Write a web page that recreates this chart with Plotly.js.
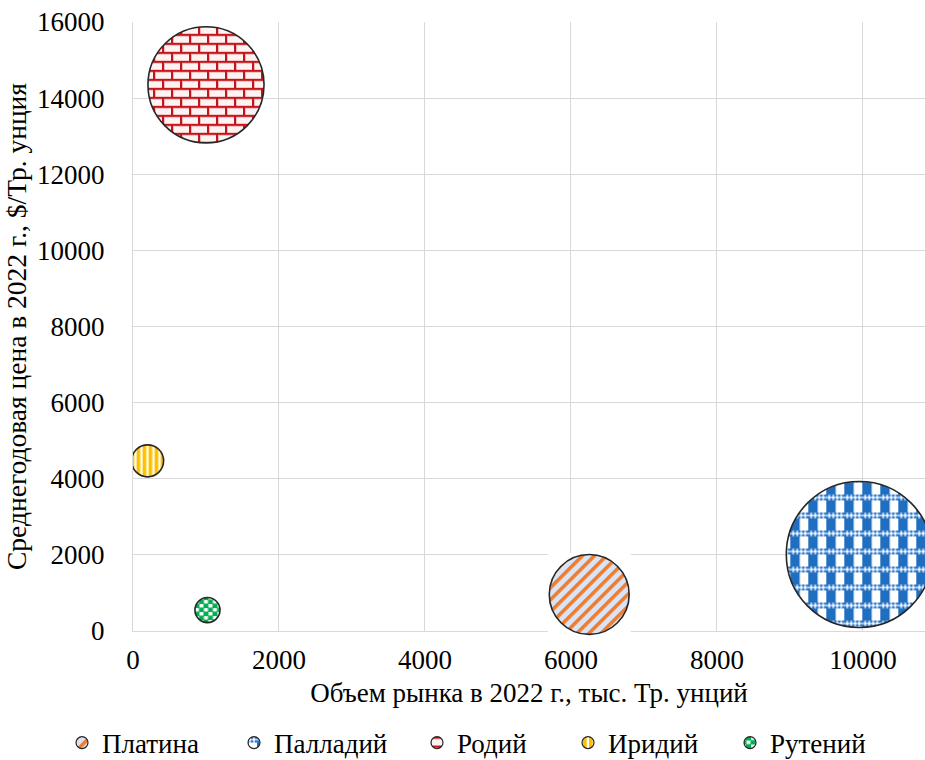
<!DOCTYPE html>
<html>
<head>
<meta charset="utf-8">
<script src="https://cdn.plot.ly/plotly-3.0.1.min.js"></script>
<style>
html,body{margin:0;padding:0;background:#fff;}
#chart{width:925px;height:760px;}
</style>
</head>
<body>
<div id="chart"></div>
<script>
// ---- data ----
const metals = ['Платина', 'Палладий', 'Родий', 'Иридий', 'Рутений'];
const marketVolume = [6250, 9950, 1000, 200, 1020];      // тыс. Тр. унций
const avgPrice = [960, 2010, 14350, 4470, 550];          // $/Тр. унция
const marketValue = [6800, 22700, 14350, 1090, 670];     // bubble size (market value, млн $)
const xTicks = [0, 2000, 4000, 6000, 8000, 10000];
const yTicks = [0, 2000, 4000, 6000, 8000, 10000, 12000, 14000, 16000];

const patIds = ['pPt', 'pPd', 'pRh', 'pIr', 'pRu'];
const legendMarkerX = [84, 256, 439, 590, 752];
const W = 925, H = 760;
const FONT = 'Liberation Serif';
const FS = 27;

const traces = [];
// white backdrop behind Platinum (as in the reference)
traces.push({
  type: 'scatter', mode: 'markers', name: 'bg',
  x: [marketVolume[0]], y: [avgPrice[0]],
  marker: {symbol: 'square', size: 83, color: '#ffffff', opacity: 1, line: {width: 0}},
  cliponaxis: false, showlegend: false, hoverinfo: 'skip'
});
metals.forEach((m, i) => {
  traces.push({
    type: 'scatter', mode: 'markers', name: m,
    x: [marketVolume[i]], y: [avgPrice[i]],
    marker: {
      size: [marketValue[i]], sizemode: 'area', sizeref: 2.13, opacity: 1,
      color: '#ffffff', line: {color: '#262626', width: 1.6}
    },
    legend: i === 0 ? 'legend' : 'legend' + (i + 1),
    cliponaxis: i === 0 ? false : true
  });
});

const layout = {
  width: W, height: H,
  margin: {l: 133, r: 0, t: 22, b: 129},
  paper_bgcolor: '#ffffff', plot_bgcolor: '#ffffff',
  font: {family: FONT, size: FS, color: '#000000'},
  showlegend: true,
  xaxis: {
    range: [0, 10850], tickvals: xTicks, ticktext: xTicks.map(String),
    showgrid: true, gridcolor: '#d9d9d9', gridwidth: 1,
    zeroline: false, showline: true, linecolor: '#d9d9d9', linewidth: 1,
    ticks: '', ticklabelstandoff: 5, layer: 'below traces',
    tickfont: {family: FONT, size: FS, color: '#000000'},
    title: {text: 'Объем рынка в 2022 г., тыс. Тр. унций', font: {family: FONT, size: FS, color: '#000000'}, standoff: 8},
    automargin: false
  },
  yaxis: {
    range: [0, 16000], tickvals: yTicks, ticktext: yTicks.map(String),
    showgrid: true, gridcolor: '#d9d9d9', gridwidth: 1,
    zeroline: false, showline: true, linecolor: '#d9d9d9', linewidth: 1,
    ticks: '', ticklabelstandoff: 22, layer: 'below traces',
    tickfont: {family: FONT, size: FS, color: '#000000'},
    title: {text: 'Среднегодовая цена в 2022 г., $/Тр. унция', font: {family: FONT, size: 27.5, color: '#000000'}, standoff: 2},
    automargin: false
  }
};
legendMarkerX.forEach((mx, i) => {
  const key = i === 0 ? 'legend' : 'legend' + (i + 1);
  layout[key] = {
    orientation: 'h', xref: 'container', yref: 'container',
    x: (mx - 22) / W, xanchor: 'left',
    y: (H - 743) / H, yanchor: 'middle',
    bgcolor: 'rgba(0,0,0,0)', borderwidth: 0,
    itemsizing: 'constant', font: {family: FONT, size: FS, color: '#000000'},
    itemclick: false, itemdoubleclick: false
  };
});

const patternDefs = `
<pattern id="pPt" patternUnits="userSpaceOnUse" width="8.5" height="8.5" patternTransform="rotate(45)">
  <rect x="0" y="0" width="8.5" height="8.5" fill="#dae3f3"/>
  <rect x="0" y="0" width="3.6" height="8.5" fill="#ed7d31"/>
</pattern>
<pattern id="pPd" patternUnits="userSpaceOnUse" width="18" height="18" x="3" y="2">
  <rect x="0" y="0" width="18" height="18" fill="#ffffff"/>
  <rect x="0" y="0" width="9" height="18" fill="#1f6ebf"/>
  <rect x="9" y="0" width="1" height="18" fill="#9dc3e6"/>
  <rect x="0" y="10" width="18" height="6" fill="#a9c9ec"/>
  <rect x="0" y="10" width="2" height="2" fill="#2e75c6"/><rect x="4" y="10" width="2" height="2" fill="#2e75c6"/>
  <rect x="8" y="10" width="2" height="2" fill="#2e75c6"/><rect x="12" y="10" width="2" height="2" fill="#2e75c6"/>
  <rect x="16" y="10" width="2" height="2" fill="#2e75c6"/>
  <rect x="2" y="12" width="2" height="2" fill="#ffffff"/><rect x="6" y="12" width="2" height="2" fill="#ffffff"/>
  <rect x="10" y="12" width="2" height="2" fill="#ffffff"/><rect x="14" y="12" width="2" height="2" fill="#ffffff"/>
  <rect x="0" y="14" width="2" height="2" fill="#2e75c6"/><rect x="4" y="14" width="2" height="2" fill="#2e75c6"/>
  <rect x="8" y="14" width="2" height="2" fill="#2e75c6"/><rect x="12" y="14" width="2" height="2" fill="#2e75c6"/>
  <rect x="16" y="14" width="2" height="2" fill="#2e75c6"/>
</pattern>
<pattern id="pRh" patternUnits="userSpaceOnUse" width="18" height="18" x="1" y="3">
  <rect x="0" y="0" width="18" height="18" fill="#fdf3f3"/>
  <rect x="0" y="2" width="18" height="1" fill="#f2b8b8"/>
  <rect x="0" y="11" width="18" height="1" fill="#f2b8b8"/>
  <rect x="2" y="0" width="1" height="9" fill="#f2b8b8"/>
  <rect x="11" y="9" width="1" height="9" fill="#f2b8b8"/>
  <rect x="0" y="0" width="18" height="2" fill="#c3161c"/>
  <rect x="0" y="9" width="18" height="2" fill="#c3161c"/>
  <rect x="0" y="0" width="2" height="9" fill="#c3161c"/>
  <rect x="9" y="9" width="2" height="9" fill="#c3161c"/>
</pattern>
<pattern id="pIr" patternUnits="userSpaceOnUse" width="6" height="6" x="1">
  <rect x="0" y="0" width="6" height="6" fill="#ffc000"/>
  <rect x="4" y="0" width="2" height="6" fill="#ffffff"/>
  <rect x="3.5" y="0" width="0.5" height="6" fill="#ffe699"/>
</pattern>
<pattern id="pRu" patternUnits="userSpaceOnUse" width="9" height="8" x="1" y="2">
  <rect x="0" y="0" width="9" height="8" fill="#00b050"/>
  <rect x="0" y="0" width="4" height="3" fill="#ffffff"/>
  <rect x="4.5" y="4" width="4" height="3" fill="#ffffff"/>
  <rect x="0" y="3" width="4" height="0.7" fill="#a9e2c0"/>
  <rect x="4.5" y="7" width="4" height="0.7" fill="#a9e2c0"/>
</pattern>`;

function applyPatterns(gd) {
  const svg = gd.querySelector('svg.main-svg');
  if (!document.getElementById('pPt')) {
    let defs = svg.querySelector('defs');
    if (!defs) { defs = document.createElementNS('http://www.w3.org/2000/svg', 'defs'); svg.insertBefore(defs, svg.firstChild); }
    defs.insertAdjacentHTML('beforeend', patternDefs);
  }
  gd.querySelectorAll('.scatterlayer .trace').forEach(tr => {
    const d = tr.__data__; const t = d && d[0] && d[0].trace;
    if (!t) return;
    const i = metals.indexOf(t.name);
    if (i < 0) return;
    tr.querySelectorAll('path.point').forEach(p => { p.style.fill = 'url(#' + patIds[i] + ')'; });
  });
  gd.querySelectorAll('g.traces').forEach(g => {
    const d = g.__data__; const t = d && d[0] && d[0].trace;
    if (!t) return;
    const i = metals.indexOf(t.name);
    if (i < 0) return;
    g.querySelectorAll('path.scatterpts').forEach(p => { p.style.fill = 'url(#' + patIds[i] + ')'; p.style.strokeWidth = '1.2px'; });
  });
}

const gd = document.getElementById('chart');
Plotly.newPlot(gd, traces, layout, {displayModeBar: false}).then(() => {
  applyPatterns(gd);
  gd.on('plotly_afterplot', () => applyPatterns(gd));
});
</script>
</body>
</html>
